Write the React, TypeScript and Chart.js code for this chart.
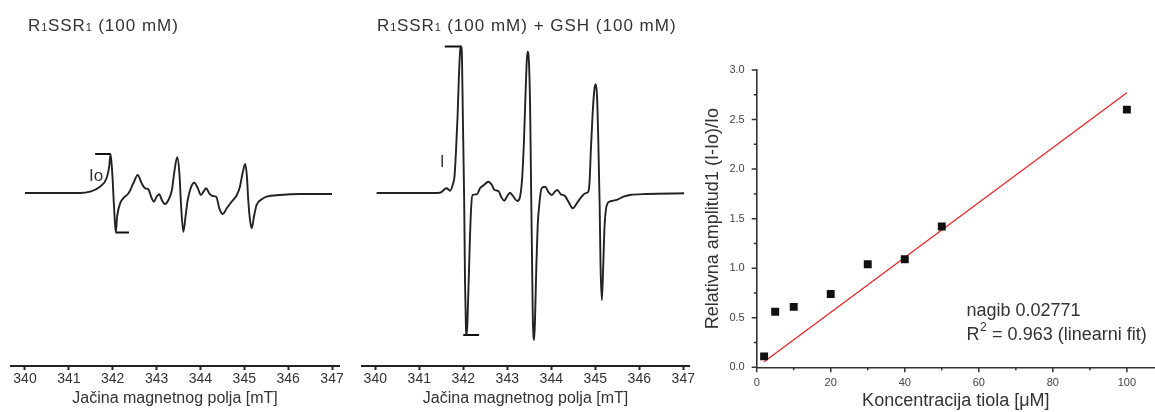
import React, { useEffect, useRef } from 'react';
import { Chart, registerables } from 'chart.js';

Chart.register(...registerables);

const FONT = "'Liberation Sans', Arial, Helvetica, sans-serif";

// ---------- EPR spectra (field in mT, amplitude in a.u.) ----------
const fieldTicks = [340, 341, 342, 343, 344, 345, 346, 347];

const field1 = [340.0, 340.8, 341.25, 341.48, 341.71, 341.86, 341.92, 341.95, 341.99, 342.03, 342.07, 342.1, 342.17, 342.24, 342.36, 342.47, 342.57, 342.66, 342.74, 342.81, 342.89, 342.94, 343.0, 343.06, 343.12, 343.19, 343.27, 343.35, 343.4, 343.47, 343.52, 343.56, 343.61, 343.66, 343.71, 343.79, 343.86, 343.94, 344.01, 344.07, 344.13, 344.2, 344.28, 344.36, 344.43, 344.51, 344.6, 344.71, 344.83, 344.9, 344.96, 345.02, 345.06, 345.09, 345.13, 345.17, 345.22, 345.28, 345.4, 345.51, 345.81, 346.27, 347.0];
const amp1 = [0, 0, 0, 1.3, 6.3, 14.7, 26.3, 39, 19.7, -13.7, -39.5, -23.7, -10.3, -5.3, -0.3, 9.7, 18, 9.7, 4.7, 3.7, -5.3, -8.7, -3.7, -1.3, -7, -11, -7, 3, 19.7, 35.7, 19.7, -13.7, -38.7, -23.7, -7, 6.3, 10.3, 4.7, -2, 1.3, 4.7, -0.3, -3, -3.7, -15.3, -21, -15.3, -8.7, -2, 6.3, 19.7, 29, 16.3, -7, -27, -35.3, -23.7, -12, -6.3, -3.7, -2, -1, -1];

const field2 = [340.03, 341.02, 341.47, 341.62, 341.7, 341.77, 341.8, 341.83, 341.87, 341.9, 341.93, 341.95, 341.97, 341.99, 342.02, 342.04, 342.06, 342.08, 342.11, 342.15, 342.18, 342.21, 342.31, 342.38, 342.47, 342.57, 342.65, 342.71, 342.8, 342.86, 342.93, 343.0, 343.06, 343.14, 343.23, 343.29, 343.34, 343.38, 343.41, 343.44, 343.46, 343.49, 343.52, 343.54, 343.56, 343.58, 343.61, 343.63, 343.66, 343.69, 343.73, 343.78, 343.86, 343.93, 344.01, 344.08, 344.14, 344.21, 344.31, 344.39, 344.49, 344.58, 344.69, 344.77, 344.84, 344.87, 344.9, 344.94, 344.98, 345.01, 345.04, 345.07, 345.1, 345.12, 345.15, 345.18, 345.21, 345.24, 345.28, 345.32, 345.41, 345.52, 345.64, 345.79, 346.17, 347.02];
const amp2 = [0, 0, 0.3, 4.7, 2.3, 9.7, 16.3, 38, 76.3, 116.3, 143, 146.5, 136.3, 76.3, -7, -90.3, -133.7, -142, -107, -47, -13.7, -2, -1.3, 4.7, 8, 11.3, 8, 3, 2, -3.7, -7.7, -3, 0.3, -3.7, -8, -3.7, 16.3, 53, 93, 129.7, 141.3, 133, 83, 9.7, -57, -123.7, -147, -127, -73.7, -33.7, -10.3, 4.7, 6.3, 1.3, -2, 1.3, 3, -1, -3, -8.7, -15.3, -10.3, -3.7, -0.3, 1.3, 11.3, 43, 79.7, 103.7, 108.7, 96.3, 49.7, -13.7, -73.7, -107, -73.7, -33.7, -17, -10.3, -8.7, -7.7, -6.3, -3.7, -2, -1, -0.3];

const bracket1TopX = [341.6, 341.95];
const bracket1TopY = [39, 39];
const bracket1BotX = [342.07, 342.37];
const bracket1BotY = [-39.5, -39.5];
const bracket2TopX = [341.58, 341.95];
const bracket2TopY = [146.5, 146.5];
const bracket2BotX = [342.0, 342.36];
const bracket2BotY = [-142, -142];

const title1 = [
  { t: 'R', sub: false }, { t: '1', sub: true }, { t: 'SSR', sub: false }, { t: '1', sub: true },
  { t: ' (100 mM)', sub: false },
];
const title2 = [
  { t: 'R', sub: false }, { t: '1', sub: true }, { t: 'SSR', sub: false }, { t: '1', sub: true },
  { t: ' (100 mM) + GSH (100 mM)', sub: false },
];
const fieldTitle = 'Jačina magnetnog polja [mT]';

// ---------- Relative amplitude vs thiol concentration ----------
const conc = [2, 5, 10, 20, 30, 40, 50, 100];
const relAmp = [0.11, 0.56, 0.61, 0.74, 1.04, 1.09, 1.42, 2.6];
const fitX = [2, 100];
const fitY = [0.055, 2.771];
const concMajor = [0, 20, 40, 60, 80, 100];
const concMinor = [10, 30, 50, 70, 90];
const ampMajor = [0, 0.5, 1, 1.5, 2, 2.5, 3];
const ampMinor = [0.25, 0.75, 1.25, 1.75, 2.25, 2.75];
const fitText1 = 'nagib 0.02771';
const fitText2 = ' = 0.963 (linearni fit)';

const zip = (xs: number[], ys: number[]) => xs.map((x, i) => ({ x, y: ys[i] }));

function drawRich(ctx: CanvasRenderingContext2D, segs: { t: string; sub: boolean }[], x: number, y: number) {
  ctx.save();
  ctx.fillStyle = '#333';
  ctx.textAlign = 'left';
  ctx.textBaseline = 'alphabetic';
  let cx = x;
  for (const s of segs) {
    const size = s.sub ? 11 : 17;
    const sp = s.sub ? 0.5 : 1;
    ctx.font = `${size}px ${FONT}`;
    (ctx as any).letterSpacing = '0px';
    const w = ctx.measureText(s.t).width + sp * s.t.length;
    (ctx as any).letterSpacing = sp + 'px';
    ctx.fillText(s.t, cx, y);
    cx += w;
  }
  ctx.restore();
}

function eprConfig(p: {
  field: number[]; amp: number[];
  topX: number[]; topY: number[]; botX: number[]; botY: number[];
  min: number; max: number; padL: number; padR: number;
  title: { t: string; sub: boolean }[]; titleX: number;
  label: string; labelX: number; labelY: number; labelSize: number;
}): any {
  const textPlugin = {
    id: 'eprText',
    afterDraw(chart: any) {
      const ctx = chart.ctx as CanvasRenderingContext2D;
      drawRich(ctx, p.title, p.titleX, 31);
      const x = chart.scales.x.getPixelForValue(p.labelX);
      const y = chart.scales.y.getPixelForValue(p.labelY);
      ctx.save();
      ctx.font = `${p.labelSize}px ${FONT}`;
      ctx.fillStyle = '#333';
      ctx.textAlign = 'center';
      ctx.textBaseline = 'middle';
      ctx.fillText(p.label, x, y);
      ctx.restore();
    },
  };
  return {
    type: 'line',
    data: {
      datasets: [
        {
          data: zip(p.field, p.amp),
          borderColor: '#222',
          borderWidth: 1.9,
          pointRadius: 0,
          cubicInterpolationMode: 'monotone',
          fill: false,
          clip: false,
        },
        { data: zip(p.topX, p.topY), borderColor: '#111', borderWidth: 2, pointRadius: 0, fill: false, clip: false },
        { data: zip(p.botX, p.botY), borderColor: '#111', borderWidth: 2, pointRadius: 0, fill: false, clip: false },
      ],
    },
    options: {
      animation: false,
      responsive: false,
      events: [],
      layout: { autoPadding: false, padding: { left: p.padL, right: p.padR, top: 40, bottom: 0 } },
      plugins: { legend: { display: false }, tooltip: { enabled: false }, title: { display: false } },
      scales: {
        x: {
          type: 'linear',
          min: p.min,
          max: p.max,
          afterBuildTicks: (s: any) => { s.ticks = fieldTicks.map((v) => ({ value: v })); },
          afterFit: (s: any) => { s.height = 46; s.paddingLeft = 0; s.paddingRight = 0; },
          grid: { display: true, drawOnChartArea: false, drawTicks: true, tickLength: 4, tickWidth: 2, tickColor: '#222' },
          border: { display: true, color: '#222', width: 2 },
          ticks: {
            color: '#333', font: { family: FONT, size: 14 }, padding: 1, maxRotation: 0, autoSkip: false,
            callback: (v: any) => String(v),
          },
          title: { display: true, text: fieldTitle, color: '#333', font: { family: FONT, size: 16 }, padding: { top: 0, bottom: 4 } },
        },
        y: { type: 'linear', display: false, min: -173, max: 153 },
      },
    },
    plugins: [textPlugin],
  };
}

function scatterConfig(): any {
  const deco = {
    id: 'deco',
    afterDraw(chart: any) {
      const ctx = chart.ctx as CanvasRenderingContext2D;
      const { x, y } = chart.scales;
      const x0 = chart.chartArea.left;
      const y0 = chart.chartArea.bottom;
      ctx.save();
      ctx.strokeStyle = '#333';
      ctx.lineWidth = 1.5;
      ctx.beginPath();
      for (const v of concMajor) { const px = x.getPixelForValue(v); ctx.moveTo(px, y0); ctx.lineTo(px, y0 + 5); }
      for (const v of concMinor) { const px = x.getPixelForValue(v); ctx.moveTo(px, y0); ctx.lineTo(px, y0 + 3); }
      for (const v of ampMajor) { const py = y.getPixelForValue(v); ctx.moveTo(x0 - 5, py); ctx.lineTo(x0, py); }
      for (const v of ampMinor) { const py = y.getPixelForValue(v); ctx.moveTo(x0 - 3, py); ctx.lineTo(x0, py); }
      ctx.stroke();

      const tx = x.getPixelForValue(56.66);
      ctx.fillStyle = '#333';
      ctx.textAlign = 'left';
      ctx.textBaseline = 'middle';
      ctx.font = `18px ${FONT}`;
      ctx.fillText(fitText1, tx, y.getPixelForValue(0.563));
      const ly = y.getPixelForValue(0.326);
      ctx.fillText('R', tx, ly);
      const rw = ctx.measureText('R').width;
      ctx.font = `12px ${FONT}`;
      ctx.fillText('2', tx + rw + 0.5, ly - 7);
      const sw = ctx.measureText('2').width;
      ctx.font = `18px ${FONT}`;
      ctx.fillText(fitText2, tx + rw + sw + 1, ly);
      ctx.restore();
    },
  };
  return {
    type: 'scatter',
    data: {
      datasets: [
        {
          type: 'line',
          data: zip(fitX, fitY),
          borderColor: '#e8262a',
          borderWidth: 1.3,
          pointRadius: 0,
          fill: false,
          order: 2,
        },
        {
          data: zip(conc, relAmp),
          pointStyle: 'rect',
          pointRadius: 5.6,
          backgroundColor: '#111',
          borderColor: '#111',
          borderWidth: 0,
          order: 1,
        },
      ],
    },
    options: {
      animation: false,
      responsive: false,
      events: [],
      layout: { autoPadding: false, padding: { left: 0, right: 0, top: 70, bottom: 0 } },
      plugins: { legend: { display: false }, tooltip: { enabled: false } },
      scales: {
        x: {
          type: 'linear',
          min: 0,
          max: 107.6,
          afterBuildTicks: (s: any) => { s.ticks = concMajor.map((v) => ({ value: v })); },
          afterFit: (s: any) => { s.height = 44.7; s.paddingLeft = 0; s.paddingRight = 0; },
          grid: { display: false, drawTicks: false, tickLength: 0 },
          border: { display: true, color: '#333', width: 1.6 },
          ticks: { color: '#444', font: { family: FONT, size: 11 }, padding: 9, maxRotation: 0, autoSkip: false, callback: (v: any) => String(v) },
          title: { display: true, text: 'Koncentracija tiola [μM]', color: '#333', font: { family: FONT, size: 18 }, padding: { top: 0, bottom: 0 } },
        },
        y: {
          type: 'linear',
          min: 0,
          max: 3,
          afterBuildTicks: (s: any) => { s.ticks = ampMajor.map((v) => ({ value: v })); },
          afterFit: (s: any) => { s.width = 56.7; },
          grid: { display: false, drawTicks: false, tickLength: 0 },
          border: { display: true, color: '#333', width: 1.6 },
          ticks: { color: '#444', font: { family: FONT, size: 11 }, padding: 12, autoSkip: false, callback: (v: any) => Number(v).toFixed(1) },
          title: { display: true, text: 'Relativna amplitud1 (I-Io)/Io', color: '#333', font: { family: FONT, size: 18 }, padding: { top: 2, bottom: 0 } },
        },
      },
    },
    plugins: [deco],
  };
}

function ChartBox({ left, width, make }: { left: number; width: number; make: () => any }) {
  const ref = useRef<HTMLCanvasElement>(null);
  useEffect(() => {
    const chart = new Chart(ref.current as HTMLCanvasElement, make());
    return () => chart.destroy();
  }, []);
  return (
    <canvas
      ref={ref}
      width={width}
      height={412}
      style={{ position: 'absolute', left, top: 0, width, height: 412 }}
    />
  );
}

export default function App() {
  return (
    <div style={{ position: 'absolute', left: 0, top: 0, width: 1155, height: 412, background: '#fff', overflow: 'hidden' }}>
      <ChartBox
        left={0}
        width={350}
        make={() =>
          eprConfig({
            field: field1, amp: amp1,
            topX: bracket1TopX, topY: bracket1TopY, botX: bracket1BotX, botY: bracket1BotY,
            min: 339.681, max: 347.159, padL: 11, padR: 11,
            title: title1, titleX: 28,
            label: 'Io', labelX: 341.62, labelY: 17, labelSize: 17,
          })
        }
      />
      <ChartBox
        left={355}
        width={345}
        make={() =>
          eprConfig({
            field: field2, amp: amp2,
            topX: bracket2TopX, topY: bracket2TopY, botX: bracket2BotX, botY: bracket2BotY,
            min: 339.698, max: 347.13, padL: 7, padR: 11,
            title: title2, titleX: 22,
            label: 'I', labelX: 341.52, labelY: 30.5, labelSize: 16,
          })
        }
      />
      <ChartBox left={700} width={455} make={scatterConfig} />
    </div>
  );
}
